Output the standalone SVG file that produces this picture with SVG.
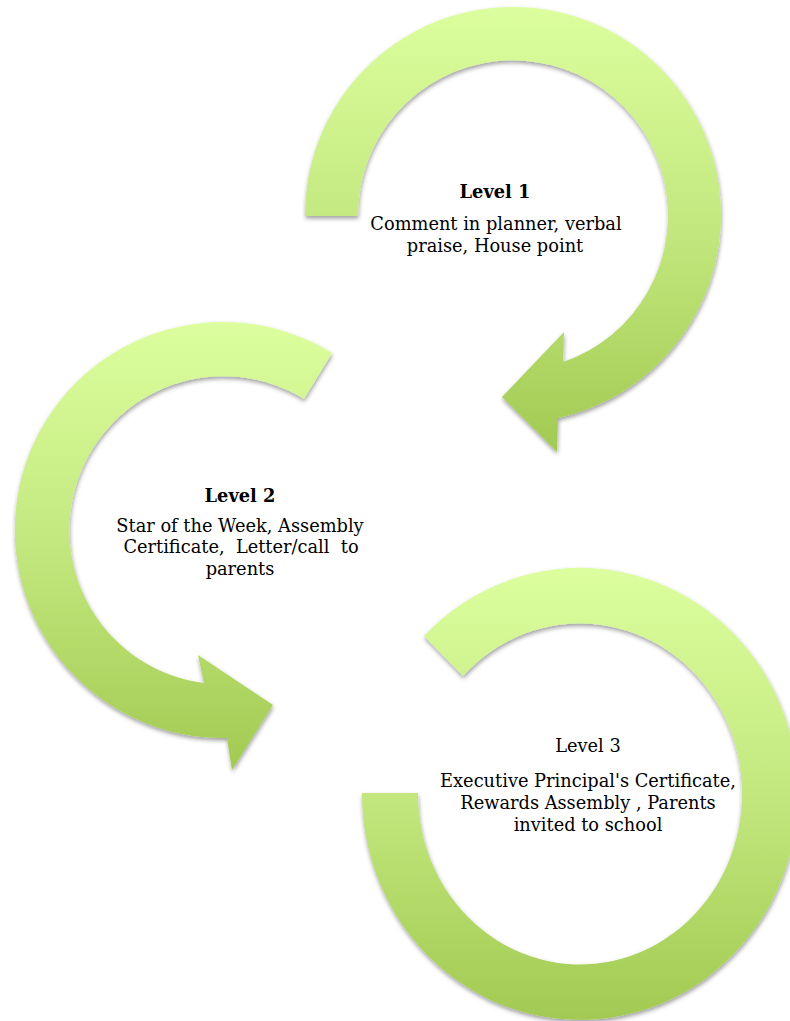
<svg xmlns="http://www.w3.org/2000/svg" width="790" height="1021" viewBox="0 0 790 1021">
  <defs>
    <linearGradient id="g" x1="0" y1="0" x2="0" y2="1">
      <stop offset="0" stop-color="#dcfe9e"/>
      <stop offset="0.45" stop-color="#c6ea82"/>
      <stop offset="1" stop-color="#a2ca52"/>
    </linearGradient>
    <filter id="sh" x="-10%" y="-10%" width="120%" height="120%">
      <feDropShadow dx="0.5" dy="2.5" stdDeviation="2.2" flood-color="#000" flood-opacity="0.38"/>
    </filter>
  </defs>
  <style>
    .arrow { fill: url(#g); filter: url(#sh); }
    .t { font-family: "DejaVu Serif", "Liberation Serif", serif; font-size: 17.8px; fill: #000; text-anchor: middle; }
    .b { font-weight: bold; }
  </style>
  <rect width="790" height="1021" fill="#fff"/>
  <g id="connectors"/>
  <g id="level1">
    <path class="arrow" d="M305,216 A208,208 0 1 1 558,418 L557,452 L502,397 L564,332 L563,362 A155,155 0 1 0 358,216 Z"/>
    <text class="t b" x="495" y="198">Level 1</text>
    <text class="t" x="496" y="230">Comment in planner, verbal</text>
    <text class="t" x="495" y="252">praise, House point</text>
  </g>
  <g id="level2">
    <path class="arrow" d="M332,353 A208,208 0 1 0 227,738 L232,770 L273,705 L198,655 L204,683 A154,154 0 1 1 304,399 Z"/>
    <text class="t b" x="240" y="502">Level 2</text>
    <text class="t" x="240" y="532">Star of the Week, Assembly</text>
    <text class="t" x="241" y="553" xml:space="preserve">Certificate,  Letter/call  to</text>
    <text class="t" x="240" y="575">parents</text>
  </g>
  <g id="level3">
    <path class="arrow" d="M424,636 A218,226 0 1 1 362,793 L418,793 A162,170.5 0 1 0 463,676 Z"/>
    <text class="t" x="588" y="752">Level 3</text>
    <text class="t" x="588" y="787">Executive Principal's Certificate,</text>
    <text class="t" x="588" y="809">Rewards Assembly , Parents</text>
    <text class="t" x="588" y="831">invited to school</text>
  </g>
</svg>
